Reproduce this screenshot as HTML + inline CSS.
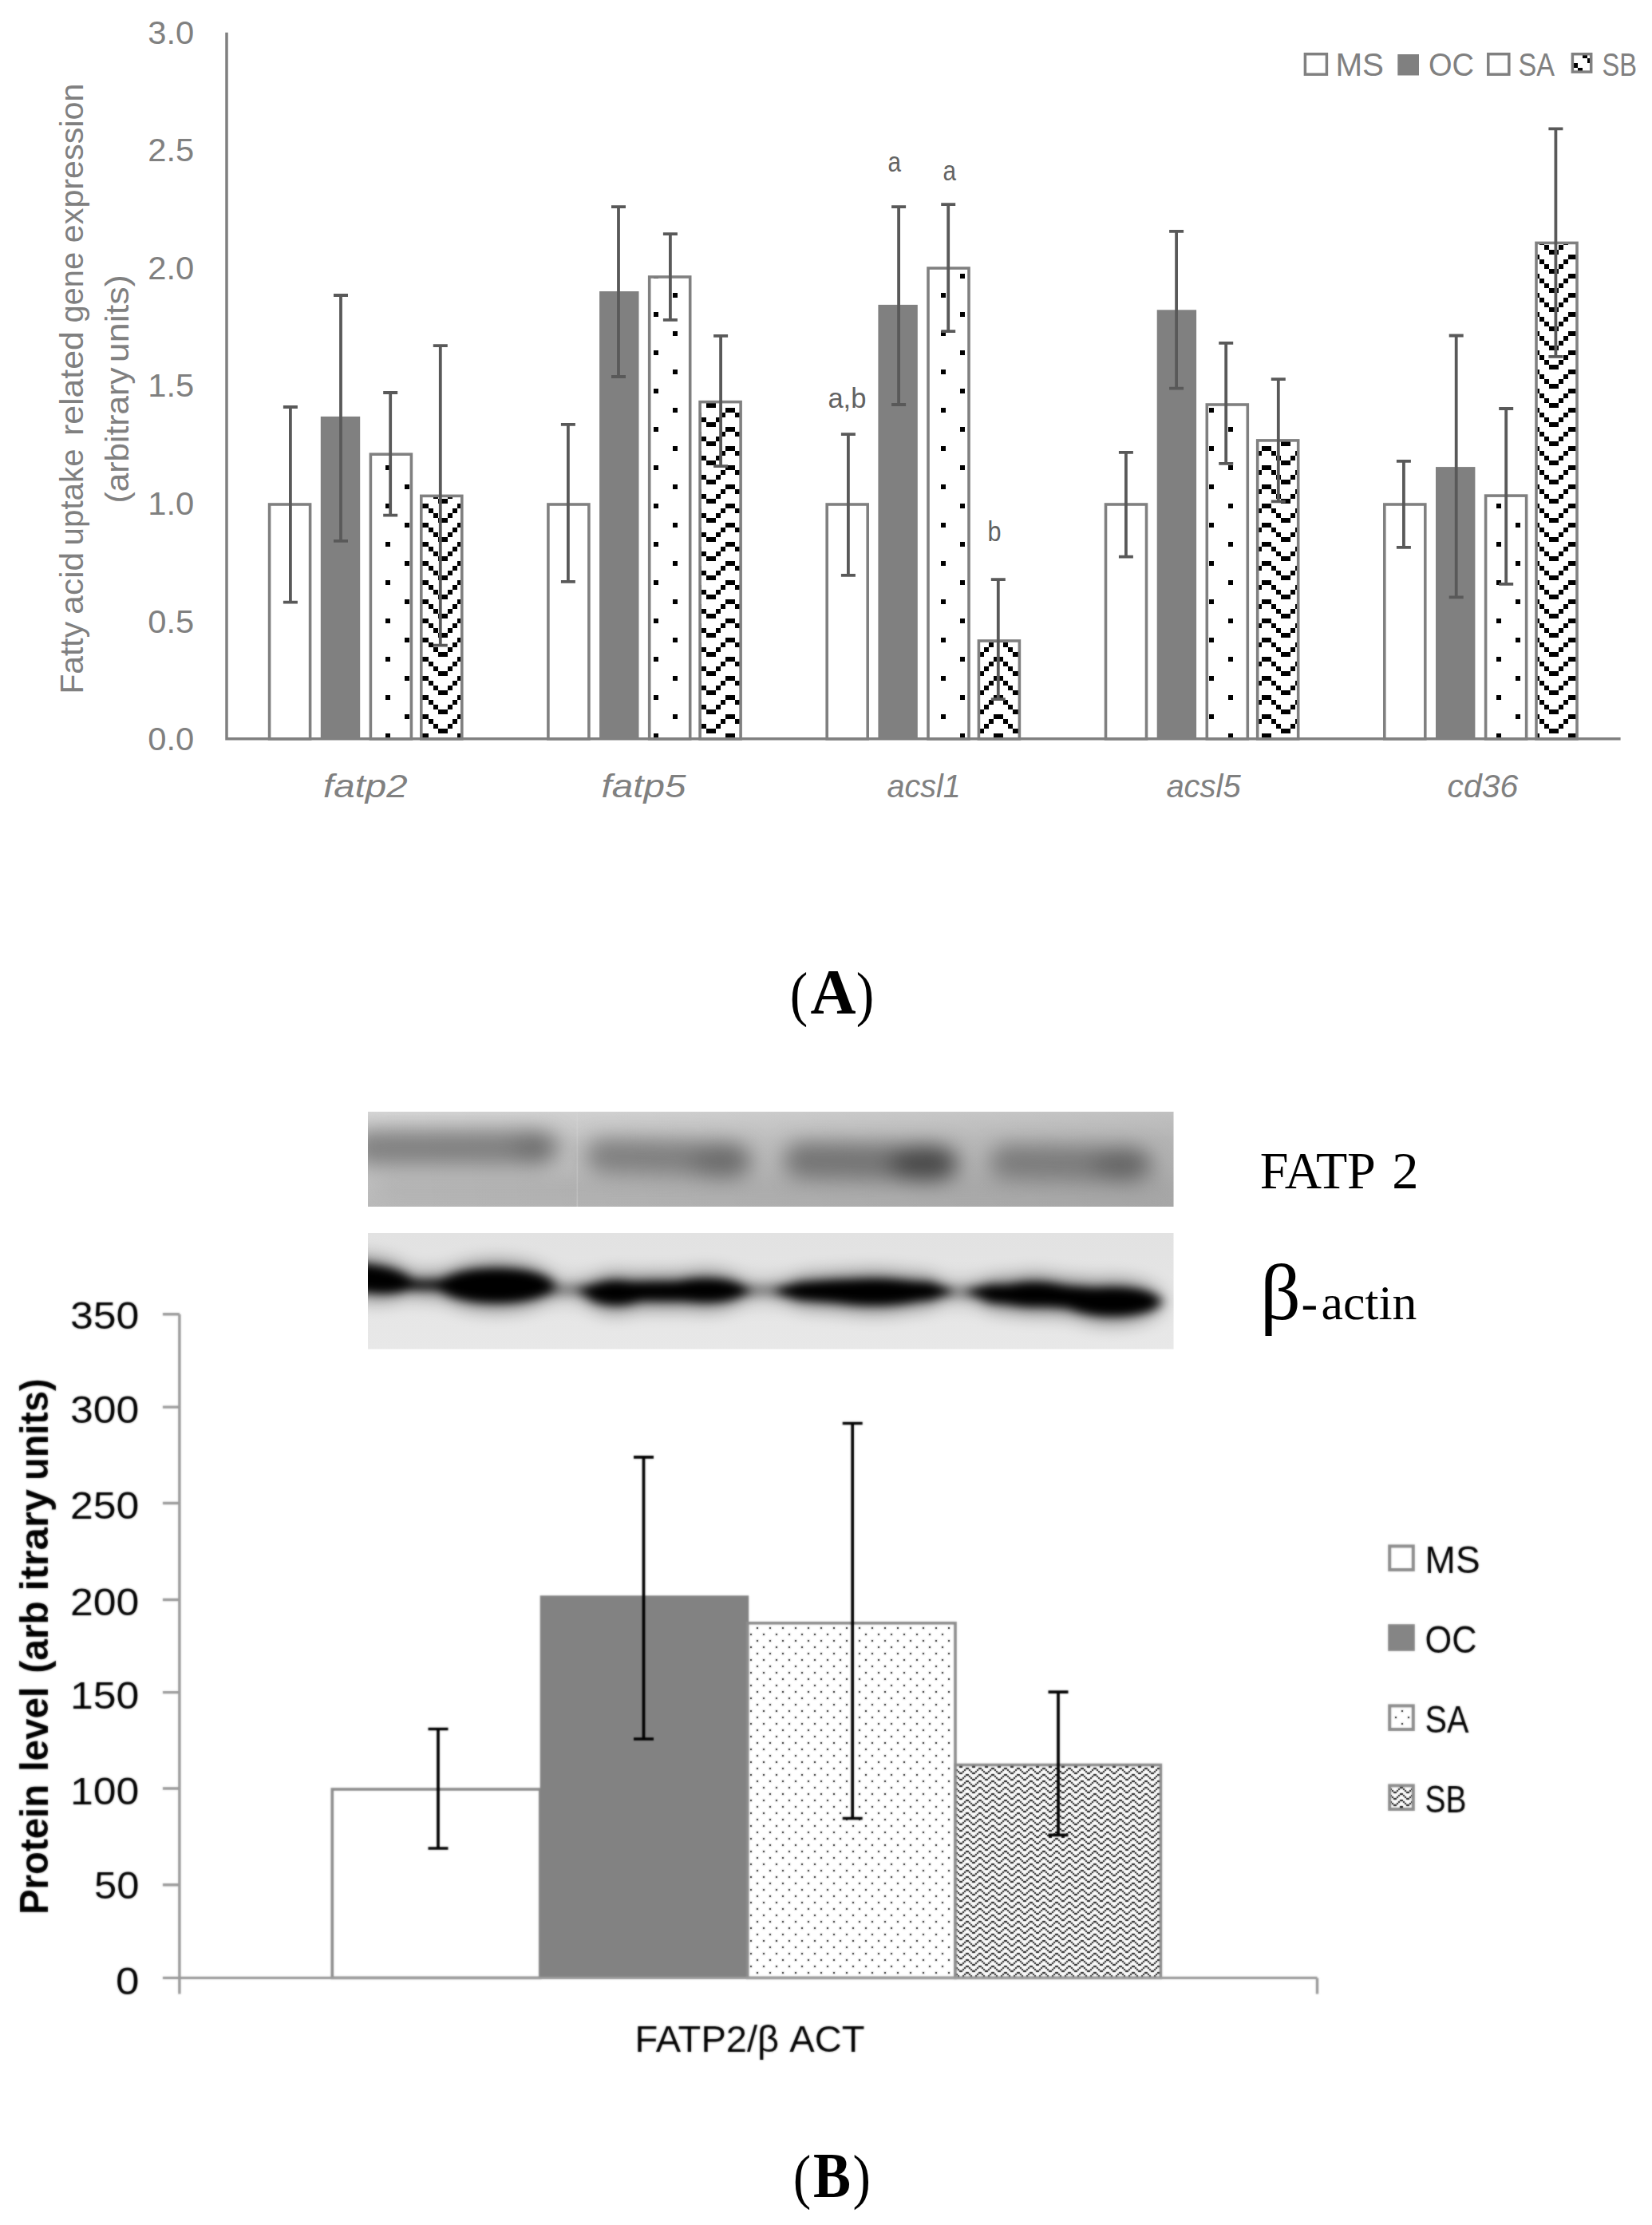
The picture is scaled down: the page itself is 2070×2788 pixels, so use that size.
<!DOCTYPE html>
<html lang="en">
<head>
<meta charset="utf-8">
<title>Figure: fatty acid uptake related gene expression and FATP2 protein level</title>
<style>
html,body{margin:0;padding:0;background:#fff;}
body{width:2070px;height:2788px;overflow:hidden;}
svg{display:block;}
text{white-space:pre;}
</style>
</head>
<body>
<svg width="2070" height="2788" viewBox="0 0 2070 2788">
<rect x="0" y="0" width="2070" height="2788" fill="#fff"/>
<defs>
<pattern id="pdA" patternUnits="userSpaceOnUse" x="3" y="7" width="48" height="48"><rect x="0" y="0" width="48" height="48" fill="#fff"/><rect x="0" y="0" width="6" height="6" fill="#000"/><rect x="24" y="24" width="6" height="6" fill="#000"/></pattern>
<pattern id="pzA" patternUnits="userSpaceOnUse" x="3" y="7" width="48" height="24"><rect x="0" y="0" width="48" height="24" fill="#fff"/><rect x="0" y="0" width="6" height="6" fill="#000"/><rect x="42" y="0" width="6" height="6" fill="#000"/><rect x="6" y="6" width="6" height="6" fill="#000"/><rect x="36" y="6" width="6" height="6" fill="#000"/><rect x="12" y="12" width="6" height="6" fill="#000"/><rect x="30" y="12" width="6" height="6" fill="#000"/><rect x="18" y="18" width="6" height="6" fill="#000"/><rect x="24" y="18" width="6" height="6" fill="#000"/></pattern>
<pattern id="pdB" patternUnits="userSpaceOnUse" x="4" y="7" width="16" height="16"><rect x="0" y="0" width="16" height="16" fill="#fff"/><rect x="0" y="0" width="2" height="2" fill="#000"/><rect x="8" y="8" width="2" height="2" fill="#000"/></pattern>
<pattern id="pzB" patternUnits="userSpaceOnUse" x="12" y="7" width="16" height="8"><rect x="0" y="0" width="16" height="8" fill="#fff"/><rect x="0" y="0" width="2" height="2" fill="#000"/><rect x="14" y="0" width="2" height="2" fill="#000"/><rect x="2" y="2" width="2" height="2" fill="#000"/><rect x="12" y="2" width="2" height="2" fill="#000"/><rect x="4" y="4" width="2" height="2" fill="#000"/><rect x="10" y="4" width="2" height="2" fill="#000"/><rect x="6" y="6" width="2" height="2" fill="#000"/><rect x="8" y="6" width="2" height="2" fill="#000"/></pattern>
<filter id="soft" color-interpolation-filters="sRGB" filterUnits="userSpaceOnUse" x="0" y="1600" width="2070" height="1050"><feGaussianBlur stdDeviation="0.85" result="b"/><feComposite in="SourceGraphic" in2="b" operator="arithmetic" k1="0" k2="0.4" k3="0.6" k4="0"/></filter>
<filter id="b6" color-interpolation-filters="sRGB" x="-20%" y="-80%" width="140%" height="260%"><feGaussianBlur stdDeviation="8 6"/></filter>
<filter id="b9" color-interpolation-filters="sRGB" x="-20%" y="-80%" width="140%" height="260%"><feGaussianBlur stdDeviation="14 12"/></filter>
<filter id="bh" color-interpolation-filters="sRGB" x="-20%" y="-80%" width="140%" height="260%"><feGaussianBlur stdDeviation="12 12"/></filter>
<linearGradient id="gTop" x1="0" y1="0" x2="0" y2="1"><stop offset="0" stop-color="#d6d6d6"/><stop offset="0.3" stop-color="#c8c8c8"/><stop offset="1" stop-color="#bababa"/></linearGradient>
<linearGradient id="gTopX" x1="0" y1="0" x2="1" y2="0"><stop offset="0" stop-color="#000" stop-opacity="0"/><stop offset="1" stop-color="#000" stop-opacity="0.10"/></linearGradient>
<linearGradient id="gBot" x1="0" y1="0" x2="0" y2="1"><stop offset="0" stop-color="#e2e2e2"/><stop offset="1" stop-color="#e8e8e8"/></linearGradient>
<clipPath id="cTop"><rect x="461" y="1393" width="1009.5" height="119"/></clipPath>
<clipPath id="cBot"><rect x="461" y="1545" width="1009.5" height="145.5"/></clipPath>
</defs>
<g id="chartA">
<rect x="337.60" y="632.00" width="51.0" height="293.80" fill="#fff" stroke="#808080" stroke-width="3.6"/>
<rect x="401.80" y="521.90" width="49.4" height="403.90" fill="#808080"/>
<rect x="464.40" y="569.20" width="51.0" height="356.60" fill="url(#pdA)" stroke="#808080" stroke-width="3.6"/>
<rect x="527.80" y="621.40" width="51.0" height="304.40" fill="url(#pzA)" stroke="#808080" stroke-width="3.6"/>
<rect x="686.90" y="632.00" width="51.0" height="293.80" fill="#fff" stroke="#808080" stroke-width="3.6"/>
<rect x="751.10" y="365.00" width="49.4" height="560.80" fill="#808080"/>
<rect x="813.70" y="347.00" width="51.0" height="578.80" fill="url(#pdA)" stroke="#808080" stroke-width="3.6"/>
<rect x="877.10" y="503.60" width="51.0" height="422.20" fill="url(#pzA)" stroke="#808080" stroke-width="3.6"/>
<rect x="1036.20" y="632.00" width="51.0" height="293.80" fill="#fff" stroke="#808080" stroke-width="3.6"/>
<rect x="1100.40" y="381.90" width="49.4" height="543.90" fill="#808080"/>
<rect x="1163.00" y="336.00" width="51.0" height="589.80" fill="url(#pdA)" stroke="#808080" stroke-width="3.6"/>
<rect x="1226.40" y="803.00" width="51.0" height="122.80" fill="url(#pzA)" stroke="#808080" stroke-width="3.6"/>
<rect x="1385.50" y="632.00" width="51.0" height="293.80" fill="#fff" stroke="#808080" stroke-width="3.6"/>
<rect x="1449.70" y="388.30" width="49.4" height="537.50" fill="#808080"/>
<rect x="1512.30" y="507.00" width="51.0" height="418.80" fill="url(#pdA)" stroke="#808080" stroke-width="3.6"/>
<rect x="1575.70" y="551.90" width="51.0" height="373.90" fill="url(#pzA)" stroke="#808080" stroke-width="3.6"/>
<rect x="1734.80" y="632.00" width="51.0" height="293.80" fill="#fff" stroke="#808080" stroke-width="3.6"/>
<rect x="1799.00" y="585.10" width="49.4" height="340.70" fill="#808080"/>
<rect x="1861.60" y="621.10" width="51.0" height="304.70" fill="url(#pdA)" stroke="#808080" stroke-width="3.6"/>
<rect x="1925.00" y="304.40" width="51.0" height="621.40" fill="url(#pzA)" stroke="#808080" stroke-width="3.6"/>
<path d="M284.0 40.7 V925.8 H2030.6" fill="none" stroke="#808080" stroke-width="3.5"/>
<path d="M363.90 510.00 V754.70 M354.90 510.00 H372.90 M354.90 754.70 H372.90" fill="none" stroke="#595959" stroke-width="3.8"/>
<path d="M427.00 370.00 V677.90 M418.00 370.00 H436.00 M418.00 677.90 H436.00" fill="none" stroke="#595959" stroke-width="3.8"/>
<path d="M489.20 492.00 V645.70 M480.20 492.00 H498.20 M480.20 645.70 H498.20" fill="none" stroke="#595959" stroke-width="3.8"/>
<path d="M551.80 433.10 V808.60 M542.80 433.10 H560.80 M542.80 808.60 H560.80" fill="none" stroke="#595959" stroke-width="3.8"/>
<path d="M711.90 531.90 V728.80 M702.90 531.90 H720.90 M702.90 728.80 H720.90" fill="none" stroke="#595959" stroke-width="3.8"/>
<path d="M775.00 259.20 V472.00 M766.00 259.20 H784.00 M766.00 472.00 H784.00" fill="none" stroke="#595959" stroke-width="3.8"/>
<path d="M839.90 293.10 V400.90 M830.90 293.10 H848.90 M830.90 400.90 H848.90" fill="none" stroke="#595959" stroke-width="3.8"/>
<path d="M903.10 420.80 V584.10 M894.10 420.80 H912.10 M894.10 584.10 H912.10" fill="none" stroke="#595959" stroke-width="3.8"/>
<path d="M1062.90 544.20 V720.80 M1053.90 544.20 H1071.90 M1053.90 720.80 H1071.90" fill="none" stroke="#595959" stroke-width="3.8"/>
<path d="M1126.10 259.20 V507.00 M1117.10 259.20 H1135.10 M1117.10 507.00 H1135.10" fill="none" stroke="#595959" stroke-width="3.8"/>
<path d="M1188.20 256.20 V415.20 M1179.20 256.20 H1197.20 M1179.20 415.20 H1197.20" fill="none" stroke="#595959" stroke-width="3.8"/>
<path d="M1250.80 726.10 V876.10 M1241.80 726.10 H1259.80 M1241.80 876.10 H1259.80" fill="none" stroke="#595959" stroke-width="3.8"/>
<path d="M1410.90 566.90 V697.60 M1401.90 566.90 H1419.90 M1401.90 697.60 H1419.90" fill="none" stroke="#595959" stroke-width="3.8"/>
<path d="M1474.10 289.80 V486.70 M1465.10 289.80 H1483.10 M1465.10 486.70 H1483.10" fill="none" stroke="#595959" stroke-width="3.8"/>
<path d="M1536.20 429.80 V580.80 M1527.20 429.80 H1545.20 M1527.20 580.80 H1545.20" fill="none" stroke="#595959" stroke-width="3.8"/>
<path d="M1601.80 475.10 V628.40 M1592.80 475.10 H1610.80 M1592.80 628.40 H1610.80" fill="none" stroke="#595959" stroke-width="3.8"/>
<path d="M1758.90 577.80 V685.90 M1749.90 577.80 H1767.90 M1749.90 685.90 H1767.90" fill="none" stroke="#595959" stroke-width="3.8"/>
<path d="M1824.70 420.50 V748.40 M1815.70 420.50 H1833.70 M1815.70 748.40 H1833.70" fill="none" stroke="#595959" stroke-width="3.8"/>
<path d="M1887.20 512.00 V731.80 M1878.20 512.00 H1896.20 M1878.20 731.80 H1896.20" fill="none" stroke="#595959" stroke-width="3.8"/>
<path d="M1949.40 161.40 V446.80 M1940.40 161.40 H1958.40 M1940.40 446.80 H1958.40" fill="none" stroke="#595959" stroke-width="3.8"/>
<text x="243.2" y="54.6" font-size="40" fill="#808080" font-family='"Liberation Sans", Arial, sans-serif' text-anchor="end" textLength="58" lengthAdjust="spacingAndGlyphs" >3.0</text>
<text x="243.2" y="202.18" font-size="40" fill="#808080" font-family='"Liberation Sans", Arial, sans-serif' text-anchor="end" textLength="58" lengthAdjust="spacingAndGlyphs" >2.5</text>
<text x="243.2" y="349.76" font-size="40" fill="#808080" font-family='"Liberation Sans", Arial, sans-serif' text-anchor="end" textLength="58" lengthAdjust="spacingAndGlyphs" >2.0</text>
<text x="243.2" y="497.34" font-size="40" fill="#808080" font-family='"Liberation Sans", Arial, sans-serif' text-anchor="end" textLength="58" lengthAdjust="spacingAndGlyphs" >1.5</text>
<text x="243.2" y="644.92" font-size="40" fill="#808080" font-family='"Liberation Sans", Arial, sans-serif' text-anchor="end" textLength="58" lengthAdjust="spacingAndGlyphs" >1.0</text>
<text x="243.2" y="792.5" font-size="40" fill="#808080" font-family='"Liberation Sans", Arial, sans-serif' text-anchor="end" textLength="58" lengthAdjust="spacingAndGlyphs" >0.5</text>
<text x="243.2" y="940.08" font-size="40" fill="#808080" font-family='"Liberation Sans", Arial, sans-serif' text-anchor="end" textLength="58" lengthAdjust="spacingAndGlyphs" >0.0</text>
<text x="104.3" y="869.5" font-size="41.5" fill="#808080" font-family='"Liberation Sans", Arial, sans-serif' textLength="90.5" lengthAdjust="spacingAndGlyphs" transform="rotate(-90 104.3 869.5)" >Fatty</text>
<text x="104.3" y="769.7" font-size="41.5" fill="#808080" font-family='"Liberation Sans", Arial, sans-serif' textLength="77.9" lengthAdjust="spacingAndGlyphs" transform="rotate(-90 104.3 769.7)" >acid</text>
<text x="104.3" y="683.4" font-size="41.5" fill="#808080" font-family='"Liberation Sans", Arial, sans-serif' textLength="121.0" lengthAdjust="spacingAndGlyphs" transform="rotate(-90 104.3 683.4)" >uptake</text>
<text x="104.3" y="546.1" font-size="41.5" fill="#808080" font-family='"Liberation Sans", Arial, sans-serif' textLength="130.9" lengthAdjust="spacingAndGlyphs" transform="rotate(-90 104.3 546.1)" >related</text>
<text x="104.3" y="404.6" font-size="41.5" fill="#808080" font-family='"Liberation Sans", Arial, sans-serif' textLength="88.7" lengthAdjust="spacingAndGlyphs" transform="rotate(-90 104.3 404.6)" >gene</text>
<text x="104.3" y="304.2" font-size="41.5" fill="#808080" font-family='"Liberation Sans", Arial, sans-serif' textLength="199.6" lengthAdjust="spacingAndGlyphs" transform="rotate(-90 104.3 304.2)" >expression</text>
<text x="161.5" y="630.4" font-size="41.5" fill="#808080" font-family='"Liberation Sans", Arial, sans-serif' textLength="169.8" lengthAdjust="spacingAndGlyphs" transform="rotate(-90 161.5 630.4)" >(arbitrary</text>
<text x="161.5" y="454.2" font-size="41.5" fill="#808080" font-family='"Liberation Sans", Arial, sans-serif' textLength="109.8" lengthAdjust="spacingAndGlyphs" transform="rotate(-90 161.5 454.2)" >units)</text>
<text x="405.1" y="999.4" font-size="41" fill="#808080" font-family='"Liberation Sans", Arial, sans-serif' font-style="italic" textLength="105.6" lengthAdjust="spacingAndGlyphs" >fatp2</text>
<text x="753.6" y="999.4" font-size="41" fill="#808080" font-family='"Liberation Sans", Arial, sans-serif' font-style="italic" textLength="105.8" lengthAdjust="spacingAndGlyphs" >fatp5</text>
<text x="1111.4" y="999.4" font-size="41" fill="#808080" font-family='"Liberation Sans", Arial, sans-serif' font-style="italic" textLength="92.4" lengthAdjust="spacingAndGlyphs" >acsl1</text>
<text x="1461.4" y="999.4" font-size="41" fill="#808080" font-family='"Liberation Sans", Arial, sans-serif' font-style="italic" textLength="93.3" lengthAdjust="spacingAndGlyphs" >acsl5</text>
<text x="1813.6" y="999.4" font-size="41" fill="#808080" font-family='"Liberation Sans", Arial, sans-serif' font-style="italic" textLength="88.6" lengthAdjust="spacingAndGlyphs" >cd36</text>
<text x="1037.4" y="510.7" font-size="34.5" fill="#626262" font-family='"Liberation Sans", Arial, sans-serif' textLength="48" lengthAdjust="spacingAndGlyphs" >a,b</text>
<text x="1112.4" y="214.8" font-size="34.5" fill="#626262" font-family='"Liberation Sans", Arial, sans-serif' textLength="16.5" lengthAdjust="spacingAndGlyphs" >a</text>
<text x="1181.4" y="225.5" font-size="34.5" fill="#626262" font-family='"Liberation Sans", Arial, sans-serif' textLength="16.5" lengthAdjust="spacingAndGlyphs" >a</text>
<text x="1237.6" y="677.9" font-size="34.5" fill="#626262" font-family='"Liberation Sans", Arial, sans-serif' textLength="17" lengthAdjust="spacingAndGlyphs" >b</text>
<rect x="1635.4" y="67.7" width="27" height="25.5" fill="#fff" stroke="#808080" stroke-width="3.5"/>
<text x="1673.5" y="94.5" font-size="40" fill="#808080" font-family='"Liberation Sans", Arial, sans-serif' textLength="60.5" lengthAdjust="spacingAndGlyphs" >MS</text>
<rect x="1751.3" y="68" width="26.7" height="26.5" fill="#808080"/>
<text x="1790" y="94.5" font-size="40" fill="#808080" font-family='"Liberation Sans", Arial, sans-serif' textLength="57" lengthAdjust="spacingAndGlyphs" >OC</text>
<rect x="1864.8" y="67.7" width="26" height="25.5" fill="#fff" stroke="#808080" stroke-width="3.5"/>
<text x="1902.5" y="94.5" font-size="40" fill="#808080" font-family='"Liberation Sans", Arial, sans-serif' textLength="45.5" lengthAdjust="spacingAndGlyphs" >SA</text>
<rect x="1970.4" y="67.7" width="23.3" height="22.4" fill="url(#pzA)" stroke="#808080" stroke-width="3.5"/>
<text x="2007.5" y="94.5" font-size="40" fill="#808080" font-family='"Liberation Sans", Arial, sans-serif' textLength="43.5" lengthAdjust="spacingAndGlyphs" >SB</text>
</g>
<text x="989.8" y="1270.5" font-size="77" fill="#000" font-family='"Liberation Serif", "Times New Roman", serif' textLength="22.5" lengthAdjust="spacingAndGlyphs" >(</text>
<text x="1015.4" y="1269.9" font-size="80.5" fill="#000" font-family='"Liberation Serif", "Times New Roman", serif' font-weight="bold" textLength="57" lengthAdjust="spacingAndGlyphs" >A</text>
<text x="1072.7" y="1270.5" font-size="77" fill="#000" font-family='"Liberation Serif", "Times New Roman", serif' textLength="22.5" lengthAdjust="spacingAndGlyphs" >)</text>
<g id="blots">
<rect x="461" y="1393" width="1009.5" height="119" fill="url(#gTop)"/>
<rect x="461" y="1393" width="1009.5" height="119" fill="url(#gTopX)"/>
<g clip-path="url(#cTop)">
<rect x="722.5" y="1393" width="1.6" height="119" fill="#d4d4d4" opacity="0.55"/>
<g filter="url(#b9)">
<rect x="440" y="1416" width="258" height="44" rx="22" ry="22" fill="#585858" opacity="0.62"/>
<ellipse cx="672" cy="1437" rx="28" ry="18" fill="#404040" opacity="0.25"/>
<rect x="734" y="1428" width="206" height="44" rx="22" ry="22" fill="#585858" opacity="0.6" transform="rotate(1.5 837.0 1450)"/>
<ellipse cx="905" cy="1457" rx="38" ry="21" fill="#404040" opacity="0.3"/>
<rect x="982" y="1432" width="218" height="46" rx="23" ry="23" fill="#505050" opacity="0.64" transform="rotate(1 1091.0 1455)"/>
<ellipse cx="1158" cy="1459" rx="42" ry="22" fill="#202020" opacity="0.5"/>
<rect x="1240" y="1435" width="202" height="44" rx="22" ry="22" fill="#585858" opacity="0.6" transform="rotate(1 1341.0 1457)"/>
<ellipse cx="1406" cy="1460" rx="36" ry="20" fill="#404040" opacity="0.35"/>
<rect x="470" y="1474" width="1000" height="28" rx="14" ry="14" fill="#808080" opacity="0.18"/>
</g></g>
<rect x="461" y="1545" width="1009.5" height="145.5" fill="url(#gBot)"/>
<g clip-path="url(#cBot)">
<g filter="url(#bh)" opacity="0.55">
<ellipse cx="462" cy="1602" rx="56" ry="24" fill="#000" opacity="1" transform="rotate(7 462 1602)"/>
<rect x="512" y="1596" width="54" height="28" rx="14" ry="14" fill="#000" opacity="0.8"/>
<ellipse cx="622" cy="1611" rx="72" ry="28" fill="#000" opacity="1"/>
<rect x="680" y="1601" width="65" height="30" rx="15" ry="15" fill="#000" opacity="0.3"/>
<ellipse cx="832" cy="1618" rx="106" ry="19" fill="#000" opacity="0.9"/>
<rect x="742" y="1602" width="186" height="32" rx="16" ry="16" fill="#000" opacity="0.9"/>
<ellipse cx="772" cy="1620" rx="38" ry="22" fill="#000" opacity="1"/>
<ellipse cx="884" cy="1617" rx="50" ry="21.5" fill="#000" opacity="1"/>
<rect x="925" y="1602" width="65" height="30" rx="15" ry="15" fill="#000" opacity="0.3"/>
<ellipse cx="1082" cy="1618" rx="108" ry="21" fill="#000" opacity="1"/>
<rect x="992" y="1600" width="184" height="36" rx="18" ry="18" fill="#000" opacity="1"/>
<ellipse cx="1095" cy="1619" rx="75" ry="23" fill="#000" opacity="1"/>
<rect x="1178" y="1604" width="54" height="30" rx="15" ry="15" fill="#000" opacity="0.28"/>
<ellipse cx="1334" cy="1625" rx="120" ry="20" fill="#000" opacity="1" transform="rotate(3 1334 1625)"/>
<rect x="1230" y="1608" width="216" height="36" rx="18" ry="18" fill="#000" opacity="1" transform="rotate(3 1338.0 1626)"/>
<ellipse cx="1296" cy="1622" rx="52" ry="22" fill="#000" opacity="1"/>
<ellipse cx="1394" cy="1631" rx="60" ry="24.5" fill="#000" opacity="1"/>
</g>
<g filter="url(#b6)">
<ellipse cx="462" cy="1602" rx="56" ry="17" fill="#000" opacity="1" transform="rotate(7 462 1602)"/>
<rect x="512" y="1603" width="54" height="14" rx="7" ry="7" fill="#000" opacity="0.8"/>
<ellipse cx="622" cy="1611" rx="72" ry="21" fill="#000" opacity="1"/>
<rect x="680" y="1608" width="65" height="16" rx="8" ry="8" fill="#000" opacity="0.3"/>
<ellipse cx="832" cy="1618" rx="106" ry="12" fill="#000" opacity="0.9"/>
<rect x="742" y="1609" width="186" height="18" rx="9" ry="9" fill="#000" opacity="0.9"/>
<ellipse cx="772" cy="1620" rx="38" ry="15" fill="#000" opacity="1"/>
<ellipse cx="884" cy="1617" rx="50" ry="14.5" fill="#000" opacity="1"/>
<rect x="925" y="1609" width="65" height="16" rx="8" ry="8" fill="#000" opacity="0.3"/>
<ellipse cx="1082" cy="1618" rx="108" ry="14" fill="#000" opacity="1"/>
<rect x="992" y="1607" width="184" height="22" rx="11" ry="11" fill="#000" opacity="1"/>
<ellipse cx="1095" cy="1619" rx="75" ry="16" fill="#000" opacity="1"/>
<rect x="1178" y="1611" width="54" height="16" rx="8" ry="8" fill="#000" opacity="0.28"/>
<ellipse cx="1334" cy="1625" rx="120" ry="13" fill="#000" opacity="1" transform="rotate(3 1334 1625)"/>
<rect x="1230" y="1615" width="216" height="22" rx="11" ry="11" fill="#000" opacity="1" transform="rotate(3 1338.0 1626)"/>
<ellipse cx="1296" cy="1622" rx="52" ry="15" fill="#000" opacity="1"/>
<ellipse cx="1394" cy="1631" rx="60" ry="17.5" fill="#000" opacity="1"/>
</g>
</g>
</g>
<text x="1578.8" y="1489" font-size="66.5" fill="#000" font-family='"Liberation Serif", "Times New Roman", serif' textLength="145" lengthAdjust="spacingAndGlyphs" >FATP</text>
<text x="1744.3" y="1489" font-size="66.5" fill="#000" font-family='"Liberation Serif", "Times New Roman", serif' >2</text>
<text x="1579" y="1652.5" font-size="100" fill="#000" font-family='"Liberation Serif", "Times New Roman", serif' >β</text>
<text x="1630.5" y="1652.5" font-size="62" fill="#000" font-family='"Liberation Serif", "Times New Roman", serif' >-</text>
<text x="1655.5" y="1652.5" font-size="62" fill="#000" font-family='"Liberation Serif", "Times New Roman", serif' textLength="120" lengthAdjust="spacingAndGlyphs" >actin</text>
<g id="chartB" filter="url(#soft)">
<rect x="416.3" y="2242.0" width="260.40000000000003" height="236.4000000000001" fill="#fff" stroke="#8c8c8c" stroke-width="3.6"/>
<rect x="676.7" y="1999.3" width="261.5" height="479.10000000000014" fill="#828282"/>
<rect x="936.7" y="2033.8" width="260.29999999999995" height="444.60000000000014" fill="url(#pdB)" stroke="#8c8c8c" stroke-width="3.6"/>
<rect x="1197.0" y="2211.5" width="257.4000000000001" height="266.9000000000001" fill="url(#pzB)" stroke="#8c8c8c" stroke-width="3.6"/>
<path d="M224.9 1646.8 V2498.4 M203.9 2478.4 H1650.5 M1650.5 2478.4 V2498.4 M203.9 1646.80 H224.9 M203.9 1763.10 H224.9 M203.9 1883.50 H224.9 M203.9 2004.50 H224.9 M203.9 2120.60 H224.9 M203.9 2241.00 H224.9 M203.9 2361.70 H224.9" fill="none" stroke="#9a9a9a" stroke-width="3.4"/>
<path d="M549.0 2166.5 V2316.0 M536.5 2166.5 H561.5 M536.5 2316.0 H561.5" fill="none" stroke="#000" stroke-width="3.7"/>
<path d="M806.5 1825.8 V2179.0 M794.0 1825.8 H819.0 M794.0 2179.0 H819.0" fill="none" stroke="#000" stroke-width="3.7"/>
<path d="M1068.2 1783.5 V2278.5 M1055.7 1783.5 H1080.7 M1055.7 2278.5 H1080.7" fill="none" stroke="#000" stroke-width="3.7"/>
<path d="M1326.0 2120.2 V2299.4 M1313.5 2120.2 H1338.5 M1313.5 2299.4 H1338.5" fill="none" stroke="#000" stroke-width="3.7"/>
<text x="174.4" y="1664.6" font-size="47.5" fill="#000" font-family='"Liberation Sans", Arial, sans-serif' text-anchor="end" textLength="86.5" lengthAdjust="spacingAndGlyphs" >350</text>
<text x="174.4" y="1783.0" font-size="47.5" fill="#000" font-family='"Liberation Sans", Arial, sans-serif' text-anchor="end" textLength="86.5" lengthAdjust="spacingAndGlyphs" >300</text>
<text x="174.4" y="1903.2" font-size="47.5" fill="#000" font-family='"Liberation Sans", Arial, sans-serif' text-anchor="end" textLength="86.5" lengthAdjust="spacingAndGlyphs" >250</text>
<text x="174.4" y="2023.7" font-size="47.5" fill="#000" font-family='"Liberation Sans", Arial, sans-serif' text-anchor="end" textLength="86.5" lengthAdjust="spacingAndGlyphs" >200</text>
<text x="174.4" y="2141.1" font-size="47.5" fill="#000" font-family='"Liberation Sans", Arial, sans-serif' text-anchor="end" textLength="86.5" lengthAdjust="spacingAndGlyphs" >150</text>
<text x="174.4" y="2260.7" font-size="47.5" fill="#000" font-family='"Liberation Sans", Arial, sans-serif' text-anchor="end" textLength="86.5" lengthAdjust="spacingAndGlyphs" >100</text>
<text x="174.4" y="2379.0" font-size="47.5" fill="#000" font-family='"Liberation Sans", Arial, sans-serif' text-anchor="end" textLength="56.5" lengthAdjust="spacingAndGlyphs" >50</text>
<text x="174.4" y="2499.0" font-size="47.5" fill="#000" font-family='"Liberation Sans", Arial, sans-serif' text-anchor="end" textLength="29.5" lengthAdjust="spacingAndGlyphs" >0</text>
<text x="60.4" y="2399.1" font-size="50" fill="#000" font-family='"Liberation Sans", Arial, sans-serif' font-weight="bold" textLength="163.3" lengthAdjust="spacingAndGlyphs" transform="rotate(-90 60.4 2399.1)" >Protein</text>
<text x="60.4" y="2219.8" font-size="50" fill="#000" font-family='"Liberation Sans", Arial, sans-serif' font-weight="bold" textLength="106.2" lengthAdjust="spacingAndGlyphs" transform="rotate(-90 60.4 2219.8)" >level</text>
<text x="60.4" y="2096.8" font-size="50" fill="#000" font-family='"Liberation Sans", Arial, sans-serif' font-weight="bold" textLength="90.8" lengthAdjust="spacingAndGlyphs" transform="rotate(-90 60.4 2096.8)" >(arb</text>
<text x="60.4" y="1993.4" font-size="50" fill="#000" font-family='"Liberation Sans", Arial, sans-serif' font-weight="bold" textLength="127.6" lengthAdjust="spacingAndGlyphs" transform="rotate(-90 60.4 1993.4)" >itrary</text>
<text x="60.4" y="1855.0" font-size="50" fill="#000" font-family='"Liberation Sans", Arial, sans-serif' font-weight="bold" textLength="127.6" lengthAdjust="spacingAndGlyphs" transform="rotate(-90 60.4 1855.0)" >units)</text>
<text x="939.5" y="2570.8" font-size="46.5" fill="#000" font-family='"Liberation Sans", Arial, sans-serif' text-anchor="middle" textLength="288" lengthAdjust="spacingAndGlyphs" >FATP2/β ACT</text>
<rect x="1741.2" y="1937.4" width="29.6" height="29.6" fill="#fff" stroke="#8c8c8c" stroke-width="4"/>
<text x="1785.6" y="1970.5" font-size="47.5" fill="#000" font-family='"Liberation Sans", Arial, sans-serif' textLength="69" lengthAdjust="spacingAndGlyphs" >MS</text>
<rect x="1739.2" y="2035.2" width="33.6" height="33.6" fill="#858585"/>
<text x="1785.6" y="2070.5" font-size="47.5" fill="#000" font-family='"Liberation Sans", Arial, sans-serif' textLength="65" lengthAdjust="spacingAndGlyphs" >OC</text>
<rect x="1741.2" y="2137.4" width="29.6" height="29.6" fill="url(#pdB)" stroke="#8c8c8c" stroke-width="4"/>
<text x="1785.6" y="2170.5" font-size="47.5" fill="#000" font-family='"Liberation Sans", Arial, sans-serif' textLength="55" lengthAdjust="spacingAndGlyphs" >SA</text>
<rect x="1741.2" y="2237.4" width="29.6" height="29.6" fill="url(#pzB)" stroke="#8c8c8c" stroke-width="4"/>
<text x="1785.6" y="2270.5" font-size="47.5" fill="#000" font-family='"Liberation Sans", Arial, sans-serif' textLength="52" lengthAdjust="spacingAndGlyphs" >SB</text>
</g>
<text x="993.8" y="2753.4" font-size="77" fill="#000" font-family='"Liberation Serif", "Times New Roman", serif' textLength="22.5" lengthAdjust="spacingAndGlyphs" >(</text>
<text x="1019.1" y="2752.8" font-size="80.5" fill="#000" font-family='"Liberation Serif", "Times New Roman", serif' font-weight="bold" textLength="47" lengthAdjust="spacingAndGlyphs" >B</text>
<text x="1068.6" y="2753.4" font-size="77" fill="#000" font-family='"Liberation Serif", "Times New Roman", serif' textLength="22.5" lengthAdjust="spacingAndGlyphs" >)</text>
</svg>
</body>
</html>
